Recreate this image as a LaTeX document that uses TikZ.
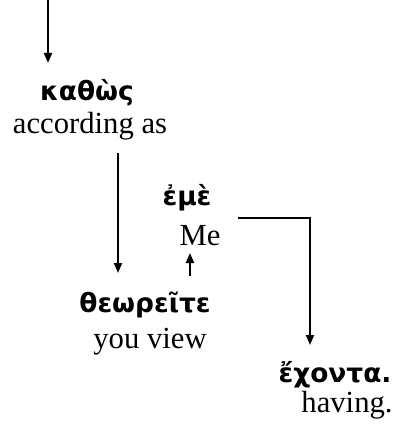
\documentclass[tikz,border=0pt]{standalone}
\usepackage{fontspec}
\setmainfont{Liberation Serif}
\newfontfamily\greekfont{DejaVu Sans}
\usetikzlibrary{arrows.meta}

\tikzset{
  gr/.style={font=\greekfont\bfseries\fontsize{19.8}{22}\selectfont, inner sep=0pt, anchor=base},
  en/.style={font=\fontsize{23}{26}\selectfont, inner sep=0pt, anchor=base},
  link/.style={line width=1.4pt, -{Triangle[length=7.5pt, width=6pt]}}
}

\begin{document}
\begin{tikzpicture}[x=0.75pt, y=-0.75pt]
  \useasboundingbox (0,0) rectangle (398,434);

  % --- words ---
  \node[gr] (kathos) at (87,101) {καθὼς};
  \node[en] (according) at (90,134) {according as};

  \node[gr] (eme) at (187,205) {ἐμὲ};
  \node[en] (me) at (200,245) {Me};

  \node[gr] (theoreite) at (145,312) {θεωρεῖτε};
  \node[en] (youview) at (150,348) {you view};

  \node[gr] (echonta) at (335,382) {ἔχοντα.};
  \node[en] (having) at (347,412) {having.};

  % --- connector ends ---
  \coordinate (topin) at (48,0);
  \coordinate (topend) at (48,63);
  \coordinate (dropin) at (118,153);
  \coordinate (dropend) at (118,273);
  \coordinate (upin) at (190,276);
  \coordinate (upend) at (190,253);
  \coordinate (sidein) at (238,218);
  \coordinate (sideend) at (310,345);

  % --- connectors ---
  \draw[link] (topin) -- (topend);
  \draw[link] (dropin) -- (dropend);
  \draw[link] (upin) -- (upend);
  \draw[link] (sidein) -| (sideend);
\end{tikzpicture}
\end{document}
